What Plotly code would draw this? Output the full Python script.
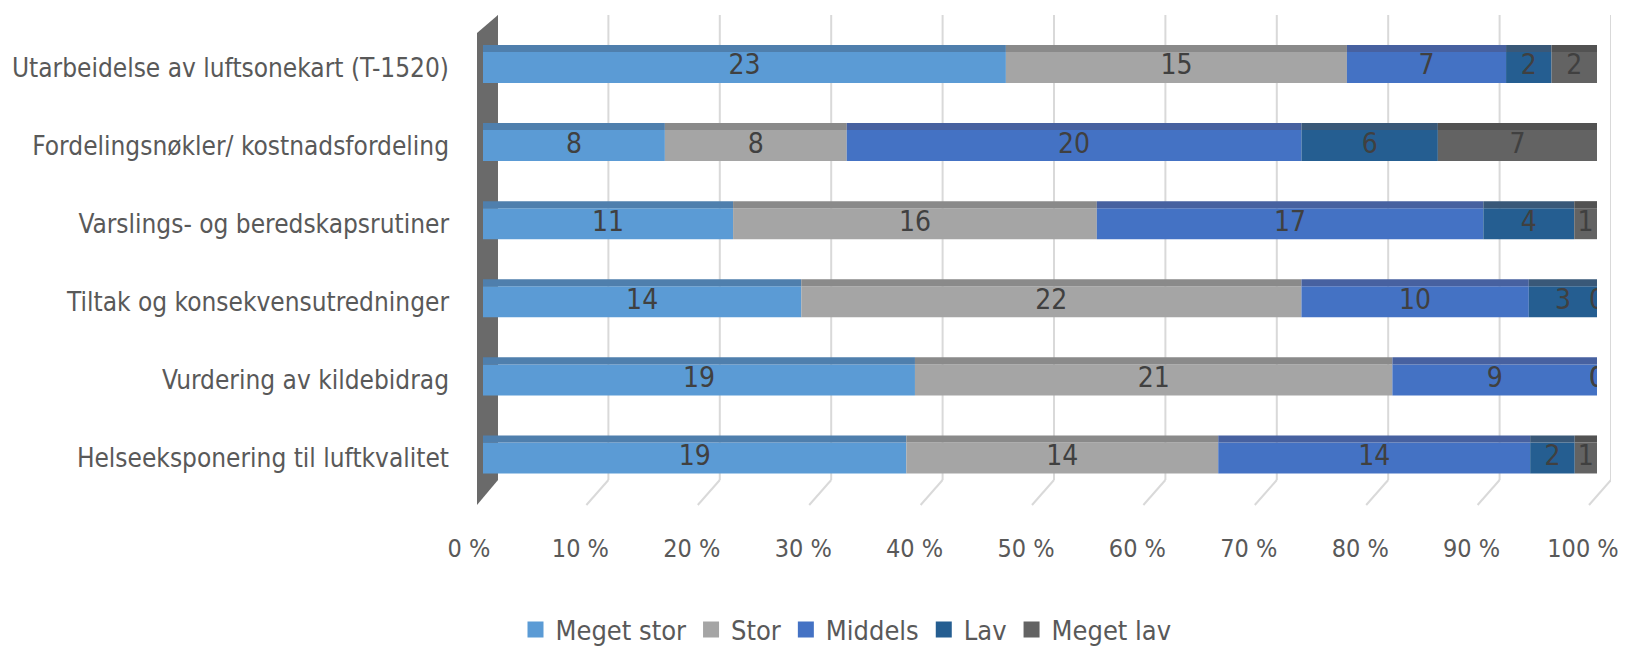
import numpy as np
import plotly.graph_objects as go

# ---------------- data ----------------
categories = [
    "Utarbeidelse av luftsonekart (T-1520)",
    "Fordelingsnøkler/ kostnadsfordeling",
    "Varslings- og beredskapsrutiner",
    "Tiltak og konsekvensutredninger",
    "Vurdering av kildebidrag",
    "Helseeksponering til luftkvalitet",
]
meget_stor = [23, 8, 11, 14, 19, 19]
stor = [15, 8, 16, 22, 21, 14]
middels = [7, 20, 17, 10, 9, 14]
lav = [2, 6, 4, 3, 0, 2]
meget_lav = [2, 7, 1, 0, 0, 1]
series_names = ["Meget stor", "Stor", "Middels", "Lav", "Meget lav"]
tick_values = [0, 10, 20, 30, 40, 50, 60, 70, 80, 90, 100]
tick_labels = ["0 %", "10 %", "20 %", "30 %", "40 %", "50 %", "60 %", "70 %", "80 %", "90 %", "100 %"]

# ---------------- styling ----------------
front_colors = ["#5B9BD5", "#A5A5A5", "#4472C4", "#255E91", "#636363"]
top_colors = ["#4F7FAD", "#8A8A8A", "#4761A0", "#395878", "#525252"]
FONT = "DejaVu Sans Condensed, Lato, Liberation Sans, sans-serif"

W_FIG, H_FIG = 1628, 647
ML, MR, MT, MB = 469, 17, 15, 142
PW = W_FIG - ML - MR
PH = H_FIG - MT - MB


def fx(px):
    return (px - ML) / PW


def fy(py):
    return (H_FIG - MB - py) / PH


FRONT_W = 0.397
TOP_W = 0.09

data = [meget_stor, stor, middels, lav, meget_lav]
arr = np.array(data, dtype=float)
totals = arr.sum(axis=0)

fig = go.Figure()
cum = np.zeros(len(categories))
label_x, label_y, label_t = [], [], []
for name, vals, fc, tc in zip(series_names, arr, front_colors, top_colors):
    pct = vals / totals * 100
    fig.add_bar(y=categories, x=pct, base=cum.copy(), orientation="h",
                marker=dict(color=fc, line=dict(width=0)),
                width=FRONT_W, offset=-FRONT_W / 2, showlegend=False,
                hoverinfo="skip")
    fig.add_bar(y=categories, x=pct, base=cum.copy(), orientation="h",
                marker=dict(color=tc, line=dict(width=0)),
                width=TOP_W, offset=-FRONT_W / 2 - TOP_W, showlegend=False,
                hoverinfo="skip")
    label_x += list(cum + pct / 2)
    label_y += categories
    label_t += [str(int(v)) for v in vals]
    cum = cum + pct

# right-hand side face of the 3D bars
fig.add_bar(y=categories, x=[0.7] * len(categories), base=cum.copy(), orientation="h",
            marker=dict(color="#3F3F3F", line=dict(width=0)),
            width=FRONT_W + TOP_W, offset=-FRONT_W / 2 - TOP_W,
            showlegend=False, hoverinfo="skip")

fig.add_scatter(x=label_x, y=label_y, mode="text", text=label_t,
                textfont=dict(family=FONT, size=28, color="#404040"),
                showlegend=False, hoverinfo="skip")

# legend entries
for name, fc in zip(series_names, front_colors):
    fig.add_scatter(x=[None], y=[None], mode="markers", name=name,
                    marker=dict(symbol="square", size=16, color=fc))

# helper traces so the extra axes exist
fig.add_scatter(x=[None], y=[None], xaxis="x2", yaxis="y", showlegend=False)
fig.add_scatter(x=[None], y=[None], xaxis="x3", yaxis="y3", showlegend=False)

shapes = []
# back gridlines (vertical part + floor diagonal)
for v in tick_values:
    shapes.append(dict(type="line", xref="x3", x0=v, x1=v, yref="paper",
                       y0=fy(480), y1=fy(15),
                       line=dict(color="#D9D9D9", width=2), layer="below"))
    shapes.append(dict(type="line", xref="x3", xsizemode="pixel", xanchor=v,
                       x0=0, x1=-22, yref="paper", ysizemode="pixel",
                       yanchor=fy(480), y0=0, y1=-25,
                       line=dict(color="#D9D9D9", width=2), layer="below"))
# left 3D wall
pts = [(477, 505), (477, 33), (498, 15), (498, 480)]
path = "M " + " L ".join(f"{fx(a):.5f},{fy(b):.5f}" for a, b in pts) + " Z"
shapes.append(dict(type="path", path=path, xref="paper", yref="paper",
                   fillcolor="#6A6A6A", line=dict(width=0), layer="below"))

fig.update_layout(
    width=W_FIG, height=H_FIG,
    margin=dict(l=ML, r=MR, t=MT, b=MB, autoexpand=False),
    paper_bgcolor="white", plot_bgcolor="rgba(0,0,0,0)",
    barmode="overlay",
    font=dict(family=FONT, color="#595959"),
    shapes=shapes,
    xaxis=dict(domain=[fx(483), fx(1597)], range=[0, 100], showgrid=False,
               showticklabels=False, zeroline=False, showline=False, anchor="y",
               automargin=False),
    xaxis2=dict(domain=[fx(469), fx(1583)], range=[0, 100], anchor="y",
                tickvals=tick_values, ticktext=tick_labels, showgrid=False,
                zeroline=False, showline=False, ticks="", automargin=False,
                tickfont=dict(size=25, color="#595959", family=FONT),
                ticklabelstandoff=26),
    xaxis3=dict(domain=[fx(497), fx(1611)], range=[0, 100], anchor="y3",
                showgrid=False, showticklabels=False, zeroline=False,
                showline=False, ticks="", automargin=False),
    yaxis=dict(domain=[0, 1], type="category", categoryorder="array",
               categoryarray=categories, range=[5.602, -0.672],
               showgrid=False, zeroline=False, showline=False, ticks="",
               automargin=False,
               tickfont=dict(size=26, color="#595959", family=FONT),
               ticklabelstandoff=33),
    yaxis3=dict(domain=[fy(480), 1], range=[0, 1], visible=False,
                anchor="x3", automargin=False),
    legend=dict(orientation="h", x=fx(846), xanchor="center", y=fy(630),
                yanchor="middle", font=dict(size=27, color="#595959", family=FONT),
                itemwidth=30, bgcolor="rgba(0,0,0,0)"),
)

fig.write_html("out.html")
